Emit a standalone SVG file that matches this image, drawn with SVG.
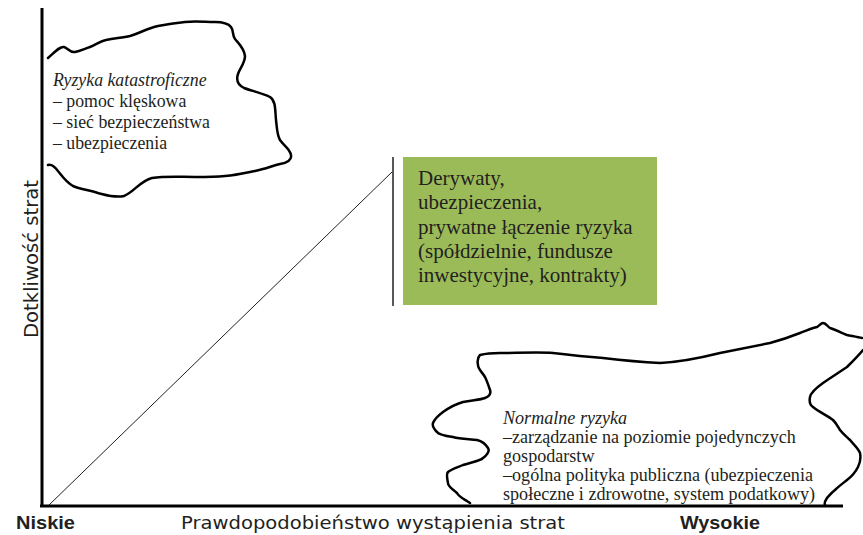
<svg xmlns="http://www.w3.org/2000/svg" width="863" height="535" viewBox="0 0 863 535">
<style>
.cloud{fill:none;stroke:#000;stroke-width:2.5;stroke-linecap:round;stroke-linejoin:round}
.serif{font-family:"Liberation Serif","Times New Roman",serif;fill:#231f20}
.sans{font-family:"DejaVu Sans","Liberation Sans",sans-serif;fill:#231f20}
.bold{font-family:"Liberation Sans",Arial,sans-serif;font-weight:bold;fill:#231f20}
</style>
<rect width="863" height="535" fill="#fff"/>
<g id="cloud-catastrophic">
<path class="cloud" d="M48,58 C55,52 60,46 64,47 C68,48 70,53 75,52 C80,51 84,49 90,47 C96,45 100,41 106,40 C115,38 122,38 130,36 C140,33 148,28 158,26 C168,24 175,23 185,22 C195,21 205,22 215,22 C222,22 228,23 231,27 C234,31 232,35 235,39 C239,44 244,48 245,56 C245,63 240,68 238,74 C236,80 238,85 244,88 C252,91 262,93 270,97 C276,101 275,110 276,120 C277,128 277,135 280,140 C284,146 290,149 291,155 C292,160 287,163 280,164 C272,166 265,169 255,171 C245,173 238,175 225,176 C215,177 205,177 195,177 C180,177 165,176 152,178 C140,181 134,192 124,196 C114,198 106,195 98,193 C88,190 80,189 73,186 C66,182 62,176 58,171 C55,167 51,164 48,165"/>
<text class="serif" font-size="17.8" x="53" y="86" font-style="italic">Ryzyka katastroficzne</text>
<text class="serif" font-size="17.8" x="53" y="107">– pomoc klęskowa</text>
<text class="serif" font-size="17.8" x="53" y="128">– sieć bezpieczeństwa</text>
<text class="serif" font-size="17.8" x="53" y="149">– ubezpieczenia</text>
</g>
<g id="box-derivatives">
<rect x="403" y="157" width="254" height="148" fill="#9bbb59"/>
<text class="serif" font-size="21" x="418" y="185">Derywaty,</text>
<text class="serif" font-size="21" x="418" y="209">ubezpieczenia,</text>
<text class="serif" font-size="21" x="418" y="234">prywatne łączenie ryzyka</text>
<text class="serif" font-size="21" x="418" y="258">(spółdzielnie, fundusze</text>
<text class="serif" font-size="21" x="418" y="282">inwestycyjne, kontrakty)</text>
</g>
<g id="cloud-normal">
<path class="cloud" d="M470,503 C464,499 459,497 457,493 C453,489 448,487 448,483 C447,478 446,474 448,472 C453,468 459,467 463,465 C472,462 480,461 483,458 C488,454 490,451 488,448 C485,443 481,441 477,440 C468,439 460,439 453,437 C446,436 439,435 437,432 C433,428 432,426 433,423 C435,418 439,415 443,412 C450,407 456,404 463,402 C472,400 480,400 485,398 C490,396 491,393 490,390 C488,384 487,381 485,377 C482,372 478,369 478,365 C477,360 478,357 480,355 C488,353 494,353 500,353 C515,353 540,352 553,353 C570,355 590,357 603,358 C620,360 640,362 660,363 C680,362 700,358 720,353 C740,349 755,346 770,343 C785,339 795,335 800,333 C808,330 812,328 817,327 C820,325 821,323 823,323 C826,323 828,327 830,328 C836,330 842,333 847,335 C852,336 858,337 862,338"/>
<path class="cloud" d="M863,350 C858,356 852,362 847,367 C838,373 830,378 823,383 C816,388 811,392 810,397 C809,402 810,405 813,407 C819,412 828,416 833,420 C837,424 838,427 840,430 C843,434 847,437 850,440 C854,445 858,448 860,453 C861,458 860,463 858,467 C855,473 851,477 847,480 C842,484 838,487 835,490 C831,493 829,496 827,498 C825,501 824,503 825,505"/>
<text class="serif" font-size="18.1" x="503" y="424" font-style="italic">Normalne ryzyka</text>
<text class="serif" font-size="18.1" x="503" y="443">–zarządzanie na poziomie pojedynczych</text>
<text class="serif" font-size="18.1" x="503" y="462">gospodarstw</text>
<text class="serif" font-size="18.1" x="503" y="481">–ogólna polityka publiczna (ubezpieczenia</text>
<text class="serif" font-size="18.1" x="503" y="500">społeczne i zdrowotne, system podatkowy)</text>
</g>
<g id="connectors">
<line x1="48" y1="506" x2="392" y2="172" stroke="#231f20" stroke-width="1"/>
<line x1="393" y1="157" x2="393" y2="306" stroke="#231f20" stroke-width="1.5"/>
<line x1="42" y1="8" x2="42" y2="507" stroke="#000" stroke-width="3"/>
<line x1="40" y1="506" x2="843" y2="506" stroke="#000" stroke-width="3"/>
</g>
<g id="axis-labels">
<text class="bold" font-size="18" x="16" y="529" textLength="59" lengthAdjust="spacingAndGlyphs">Niskie</text>
<text class="sans" font-size="17" x="181" y="529" textLength="384" lengthAdjust="spacingAndGlyphs">Prawdopodobieństwo wystąpienia strat</text>
<text class="bold" font-size="18" x="680" y="529" textLength="80" lengthAdjust="spacingAndGlyphs">Wysokie</text>
<text class="sans" font-size="19" transform="translate(38,338) rotate(-90)" textLength="158" lengthAdjust="spacingAndGlyphs">Dotkliwość  strat</text>
</g>
</svg>
